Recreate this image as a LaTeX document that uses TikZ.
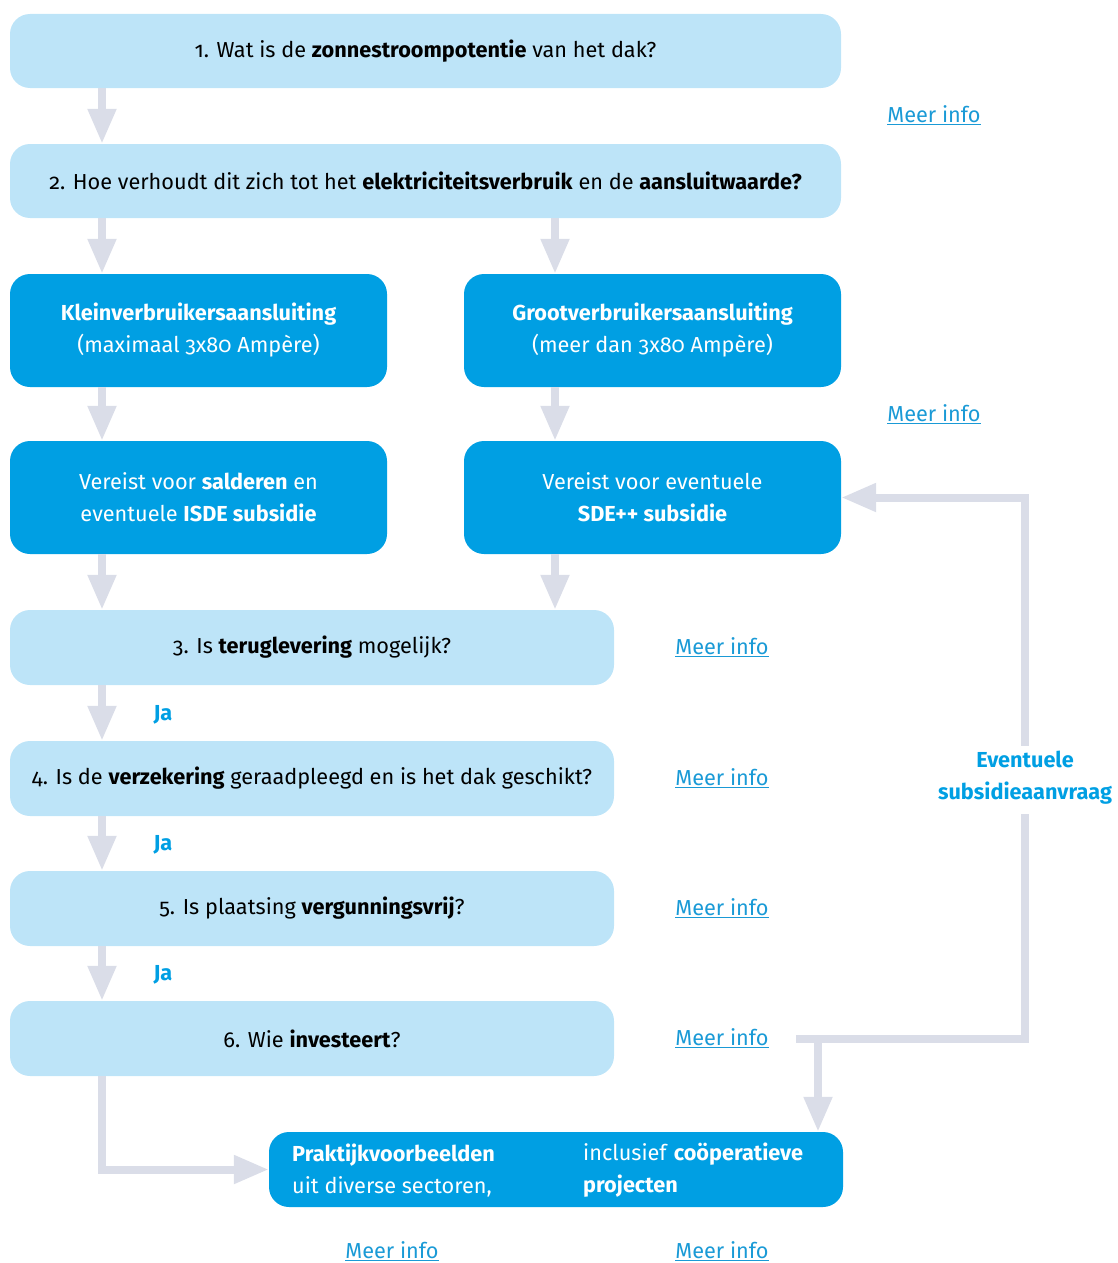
\documentclass[tikz,border=0pt]{standalone}
\usepackage{fontspec}
\setmainfont{Fira Sans}[Numbers=OldStyle]
\usetikzlibrary{arrows.meta,calc}
\definecolor{lightbl}{HTML}{BDE4F8}
\definecolor{darkbl}{HTML}{009FE3}
\definecolor{arrgray}{HTML}{DADDE8}
\definecolor{linkbl}{HTML}{1A9AD6}
\newcommand{\fz}{\fontsize{21.7}{32}\selectfont}
\tikzset{
  lbox/.style={fill=lightbl, rounded corners=20pt, inner sep=0pt, text=black, align=center, font=\fz},
  dbox/.style={fill=darkbl, rounded corners=20pt, inner sep=0pt, text=white, align=center, font=\fz},
  dtext/.style={anchor=west, inner sep=0pt, text=white, align=left, font=\fz},
  arr/.style={draw=arrgray, line width=8pt, -{Triangle[width=27pt,length=35pt]}},
  plain/.style={draw=arrgray, line width=8pt},
  ja/.style={text=darkbl, font=\fz\bfseries},
  link/.style={text=linkbl, font=\fz, inner sep=0pt},
}
\begin{document}
\begin{tikzpicture}[x=1pt,y=-1pt]
\useasboundingbox (0,0) rectangle (1118,1263);
% boxes
\node[lbox, minimum width=831pt, minimum height=74pt] (b1) at (425.5,51) {1. Wat is de \textbf{zonnestroompotentie} van het dak?};
\node[lbox, minimum width=831pt, minimum height=74pt] (b2) at (425.5,181) {2. Hoe verhoudt dit zich tot het \textbf{elektriciteitsverbruik} en de \textbf{aansluitwaarde?}};
\node[dbox, minimum width=377pt, minimum height=113pt] (kl) at (198.5,330.5) {\textbf{Kleinverbruikersaansluiting}\\(maximaal 3x80 Ampère)};
\node[dbox, minimum width=377pt, minimum height=113pt] (gr) at (652.5,330.5) {\textbf{Grootverbruikersaansluiting}\\(meer dan 3x80 Ampère)};
\node[dbox, minimum width=377pt, minimum height=113pt] (vl) at (198.5,497.5) {Vereist voor \textbf{salderen} en\\eventuele \textbf{ISDE subsidie}};
\node[dbox, minimum width=377pt, minimum height=113pt] (vr) at (652.5,497.5) {Vereist voor eventuele\\\textbf{SDE++ subsidie}};
\node[lbox, minimum width=604pt, minimum height=75pt] (b3) at (312,647.5) {3. Is \textbf{teruglevering} mogelijk?};
\node[lbox, minimum width=604pt, minimum height=75pt] (b4) at (312,778.5) {4. Is de \textbf{verzekering} geraadpleegd en is het dak geschikt?};
\node[lbox, minimum width=604pt, minimum height=75pt] (b5) at (312,908.5) {5. Is plaatsing \textbf{vergunningsvrij}?};
\node[lbox, minimum width=604pt, minimum height=75pt] (b6) at (312,1038.5) {6. Wie \textbf{investeert}?};
\node[dbox, minimum width=574pt, minimum height=75pt] (pk) at (556,1169.5) {};
\node[dtext] (pkl) at (292,1170) {\textbf{Praktijkvoorbeelden}\\uit diverse sectoren,};
\node[dtext] (pkr) at (583,1170) {inclusief \textbf{coöperatieve}\\\textbf{projecten}};
% column coordinates
\coordinate (cl) at (102,0);
\coordinate (cr) at (555,0);
% vertical arrows
\draw[arr] (b1.south -| cl) -- (b2.north -| cl);
\draw[arr] (b2.south -| cl) -- (kl.north -| cl);
\draw[arr] (b2.south -| cr) -- (gr.north -| cr);
\draw[arr] (kl.south -| cl) -- (vl.north -| cl);
\draw[arr] (gr.south -| cr) -- (vr.north -| cr);
\draw[arr] (vl.south -| cl) -- (b3.north -| cl);
\draw[arr] (vr.south -| cr) -- (b3.north -| cr);
\draw[arr] (b3.south -| cl) -- (b4.north -| cl);
\draw[arr] (b4.south -| cl) -- (b5.north -| cl);
\draw[arr] (b5.south -| cl) -- (b6.north -| cl);
\draw[arr] (b6.south -| cl) |- (pk.west);
% Ja labels
\node[ja] (ja1) at (163,715) {Ja};
\node[ja] (ja2) at (163,845) {Ja};
\node[ja] (ja3) at (163,975) {Ja};
% subsidy loop
\node[text=darkbl, align=center, font=\fz\bfseries] (ev) at (1025,778) {Eventuele\\subsidieaanvraag};
\coordinate (j1) at (1025,1039);
\coordinate (j2) at (796,1039);
\coordinate (j3) at (818,1039);
\draw[arr] ([yshift=2pt]ev.north) |- (vr.east);
\draw[plain] ([yshift=-6pt]ev.south) -- (j1) -- (j2);
\draw[arr] ([yshift=-4pt]j3) -- (pk.north -| j3);
% links
\node[link] (m1) at (934,115) {\underline{Meer info}};
\node[link] (m2) at (934,414) {\underline{Meer info}};
\node[link] (m3) at (722,647) {\underline{Meer info}};
\node[link] (m4) at (722,778) {\underline{Meer info}};
\node[link] (m5) at (722,908) {\underline{Meer info}};
\node[link] (m6) at (722,1038) {\underline{Meer info}};
\node[link] (m7) at (392,1251) {\underline{Meer info}};
\node[link] (m8) at (722,1251) {\underline{Meer info}};
\end{tikzpicture}
\end{document}
